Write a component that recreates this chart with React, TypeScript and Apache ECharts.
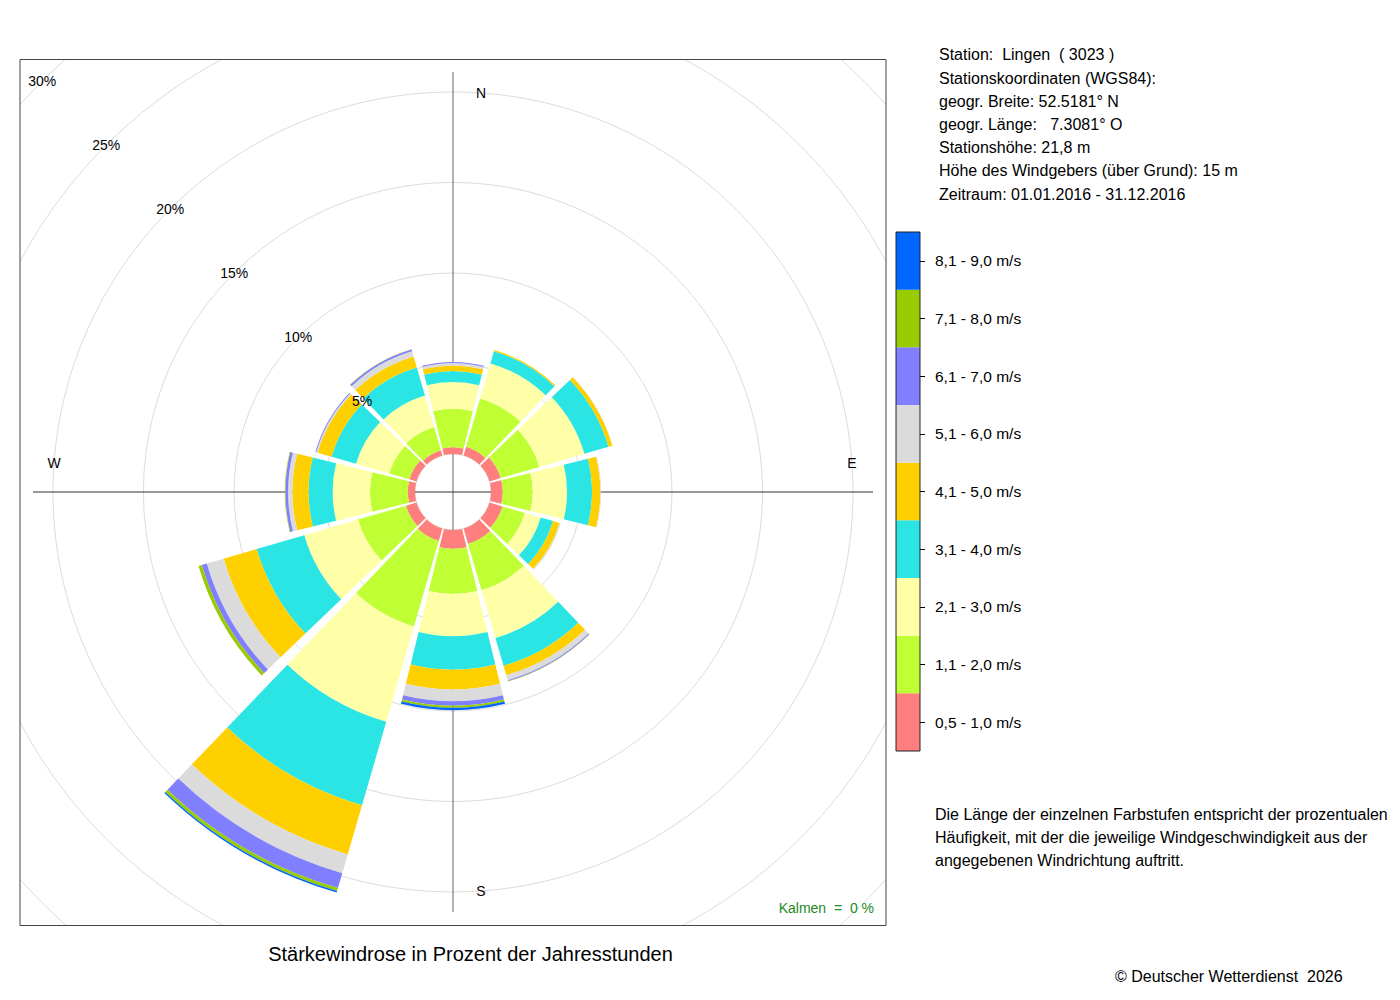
import React, { useEffect, useRef } from "react";
import * as echarts from "echarts";

// ---- data (percent of annual hours) ----
const directions = ["N", "NNO", "ONO", "O", "OSO", "SSO", "S", "SSW", "WSW", "W", "WNW", "NNW"];
const speedClasses = [
  "0,5 - 1,0 m/s",
  "1,1 - 2,0 m/s",
  "2,1 - 3,0 m/s",
  "3,1 - 4,0 m/s",
  "4,1 - 5,0 m/s",
  "5,1 - 6,0 m/s",
  "6,1 - 7,0 m/s",
  "7,1 - 8,0 m/s",
  "8,1 - 9,0 m/s",
];
const classColors = ["#FF7F7F", "#BFFF33", "#FFFFA8", "#2BE5E5", "#FFD000", "#DBDBDB", "#7F7FFF", "#99CC00", "#0066FF"];

const v05_10 = [0.37, 0.5, 0.65, 0.65, 0.75, 0.88, 1.04, 0.72, 0.61, 0.4, 0.41, 0.3];
const v11_20 = [2.13, 2.78, 2.22, 1.65, 1.29, 2.67, 2.49, 4.92, 2.76, 2.09, 1.16, 1.34];
const v21_30 = [1.47, 2.02, 2.59, 1.9, 0.91, 2.75, 2.34, 5.48, 3.09, 2.06, 1.91, 1.81];
const v31_40 = [0.61, 0.7, 1.39, 1.38, 0.71, 1.6, 1.84, 4.8, 2.74, 1.33, 1.41, 1.62];
const v41_50 = [0.31, 0.07, 0.22, 0.46, 0.37, 0.55, 1.1, 2.83, 1.9, 0.89, 0.8, 0.63];
const v51_60 = [0.14, 0, 0.02, 0.04, 0.07, 0.28, 0.65, 1.08, 0.97, 0.24, 0.08, 0.3];
const v61_70 = [0.05, 0, 0, 0, 0, 0.05, 0.24, 0.86, 0.28, 0.15, 0.05, 0.1];
const v71_80 = [0, 0, 0, 0, 0, 0.02, 0.12, 0.17, 0.19, 0.03, 0, 0.02];
const v81_90 = [0, 0, 0, 0, 0, 0, 0.13, 0.08, 0, 0, 0, 0];
const classValues = [v05_10, v11_20, v21_30, v31_40, v41_50, v51_60, v61_70, v71_80, v81_90];

const radiusMax = 30;
const radiusStep = 5;
const compassLabels = [
  { text: "N", angle: 0 },
  { text: "E", angle: 90 },
  { text: "S", angle: 180 },
  { text: "W", angle: 270 },
];
const stationLines = [
  "Station:  Lingen  ( 3023 )",
  "Stationskoordinaten (WGS84):",
  "geogr. Breite: 52.5181° N",
  "geogr. Länge:   7.3081° O",
  "Stationshöhe: 21,8 m",
  "Höhe des Windgebers (über Grund): 15 m",
  "Zeitraum: 01.01.2016 - 31.12.2016",
];
const noteLines = [
  "Die Länge der einzelnen Farbstufen entspricht der prozentualen",
  "Häufigkeit, mit der die jeweilige Windgeschwindigkeit aus der",
  "angegebenen Windrichtung auftritt.",
];
const chartTitle = "Stärkewindrose in Prozent der Jahresstunden";
const calmText = "Kalmen  =  0 %";
const copyright = "© Deutscher Wetterdienst  2026";

// ---- layout ----
const FONT = "'Liberation Sans', Arial, Helvetica, sans-serif";
const CX = 453;
const CY = 492;
const R0 = 38;
const R1 = 581;
const BOX = { x: 20, y: 59.5, w: 866, h: 866 };

export default function App() {
  const ref = useRef<HTMLDivElement>(null);

  useEffect(() => {
    if (!ref.current) return;
    const chart = echarts.init(ref.current, null, { renderer: "svg" });

    const barSeries = classValues.map((vals, i) => ({
      type: "bar",
      name: speedClasses[i],
      coordinateSystem: "polar",
      polarIndex: 0,
      stack: "rose",
      barCategoryGap: "8%",
      data: vals,
      itemStyle: { color: classColors[i] },
      z: 2,
    }));

    const compassGraphics = compassLabels.map((c) => {
      const a = (c.angle * Math.PI) / 180;
      const rr = 399;
      const vertical = c.angle % 180 === 0;
      const x = CX + rr * Math.sin(a) + (vertical ? 28 : 0);
      const y = CY - rr * Math.cos(a) - (vertical ? 0 : 29.5);
      return {
        type: "text",
        x,
        y,
        z: 15,
        style: {
          text: c.text,
          fill: "#000",
          fontSize: 14,
          fontFamily: FONT,
          textAlign: "center",
          textVerticalAlign: "middle",
          align: "center",
          verticalAlign: "middle",
        },
      };
    });

    const textEl = (text: string, x: number, y: number, size: number, align: string, color = "#000", lh?: number) => ({
      type: "text",
      x,
      y,
      z: 40,
      style: {
        text,
        fill: color,
        fontSize: size,
        fontFamily: FONT,
        lineHeight: lh,
        textAlign: align,
        textVerticalAlign: lh ? "top" : "middle",
        align,
        verticalAlign: lh ? "top" : "middle",
      },
    });

    const option: any = {
      animation: false,
      textStyle: { fontFamily: FONT },
      polar: [
        { center: [CX, CY], radius: [R0, R1] },
        { center: [CX, CY], radius: [R0, R1] },
        { center: [CX, CY], radius: [0, 420] },
      ],
      angleAxis: [
        {
          polarIndex: 0,
          type: "category",
          data: directions,
          startAngle: 105,
          clockwise: true,
          boundaryGap: true,
          axisLine: { show: false },
          axisTick: { show: false },
          axisLabel: { show: false },
          splitLine: { show: false },
        },
        {
          polarIndex: 1,
          type: "value",
          min: 0,
          max: 360,
          startAngle: 135,
          axisLine: { show: false },
          axisTick: { show: false },
          axisLabel: { show: false },
          splitLine: { show: false },
        },
        {
          polarIndex: 2,
          type: "value",
          min: 0,
          max: 360,
          interval: 90,
          startAngle: 90,
          axisLine: { show: false },
          axisTick: { show: false },
          axisLabel: { show: false },
          splitLine: { show: true, lineStyle: { color: ["#666", "#333"], width: 1 } },
        },
      ],
      radiusAxis: [
        {
          polarIndex: 0,
          type: "value",
          min: 0,
          max: radiusMax,
          interval: radiusStep,
          axisLine: { show: false },
          axisTick: { show: false },
          axisLabel: { show: false },
          splitLine: { show: true, lineStyle: { color: "#DCDCDC", width: 1 } },
        },
        {
          polarIndex: 1,
          type: "value",
          min: 0,
          max: radiusMax,
          interval: radiusStep,
          z: 10,
          axisLine: { show: false },
          axisTick: { show: false },
          splitLine: { show: false },
          axisLabel: {
            margin: 0,
            align: "center",
            verticalAlign: "middle",
            fontSize: 14,
            color: "#000",
            formatter: (v: number) => (v === 0 ? "" : v + "%"),
          },
        },
        {
          polarIndex: 2,
          type: "value",
          min: 0,
          max: 1,
          axisLine: { show: false },
          axisTick: { show: false },
          axisLabel: { show: false },
          splitLine: { show: false },
        },
      ],
      grid: [
        {
          left: 896,
          top: 232,
          width: 24,
          height: 519,
          show: true,
          borderColor: "#222",
          borderWidth: 1,
          backgroundColor: "transparent",
          z: 32,
        },
      ],
      xAxis: [{ gridIndex: 0, type: "value", min: 0, max: 1, show: false }],
      yAxis: [
        {
          gridIndex: 0,
          type: "category",
          data: speedClasses,
          position: "right",
          z: 32,
          axisLine: { show: false, onZero: false },
          axisTick: { show: true, inside: false, alignWithLabel: true, length: 5, lineStyle: { color: "#000" } },
          axisLabel: { margin: 15, fontSize: 15.5, color: "#000", fontFamily: FONT },
        },
      ],
      series: [
        ...barSeries,
        {
          type: "bar",
          name: "Farbskala",
          xAxisIndex: 0,
          yAxisIndex: 0,
          barWidth: "100%",
          z: 31,
          data: classColors.map((c) => ({ value: 1, itemStyle: { color: c } })),
        },
      ],
      graphic: [
        // masks clipping the polar grid to the plot box
        { type: "rect", z: 20, shape: { x: 0, y: 0, width: 1400, height: BOX.y }, style: { fill: "#fff" } },
        { type: "rect", z: 20, shape: { x: 0, y: BOX.y + BOX.h, width: 1400, height: 200 }, style: { fill: "#fff" } },
        { type: "rect", z: 20, shape: { x: 0, y: 0, width: BOX.x, height: 1000 }, style: { fill: "#fff" } },
        { type: "rect", z: 20, shape: { x: BOX.x + BOX.w, y: 0, width: 600, height: 1000 }, style: { fill: "#fff" } },
        {
          type: "rect",
          z: 21,
          shape: { x: BOX.x, y: BOX.y, width: BOX.w, height: BOX.h },
          style: { fill: "none", stroke: "#444", lineWidth: 1 },
        },
        ...compassGraphics,
        textEl(stationLines.join("\n"), 939, 55 - 11.6, 16, "left", "#000", 23.2),
        textEl(noteLines.join("\n"), 935, 814 - 11.5, 16, "left", "#000", 23),
        textEl(chartTitle, 470.5, 954, 20, "center"),
        textEl(copyright, 1115, 976, 16, "left"),
        { ...textEl(calmText, 874, 908, 14, "right", "#228B22"), z: 22 },
      ],
    };

    chart.setOption(option);
    return () => chart.dispose();
  }, []);

  return <div ref={ref} style={{ position: "absolute", left: 0, top: 0, width: 1400, height: 1000 }} />;
}
